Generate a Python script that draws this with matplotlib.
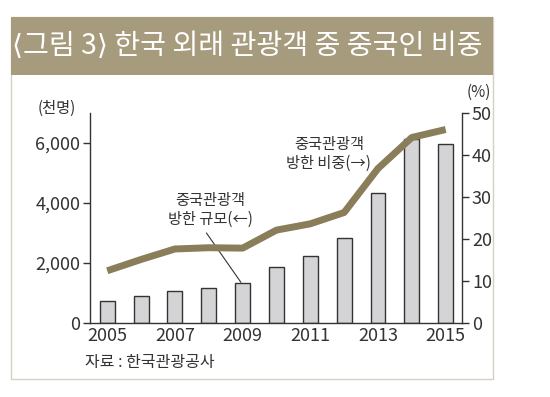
import matplotlib
matplotlib.use("Agg")
import matplotlib.pyplot as plt
from matplotlib.patches import Rectangle
from matplotlib.ticker import FuncFormatter

plt.rcParams["font.family"] = ["Noto Sans CJK KR", "DejaVu Sans"]

# ── Data ─────────────────────────────────────────────────────────────────────
years = [2005, 2006, 2007, 2008, 2009, 2010, 2011, 2012, 2013, 2014, 2015]
visitors = [710, 897, 1069, 1168, 1342, 1876, 2220, 2837, 4327, 6127, 5984]  # 천명
share = [12.4, 15.1, 17.6, 17.9, 17.8, 22.1, 23.6, 26.3, 36.8, 44.2, 46.1]  # %
year_labels = ["2005", "2007", "2009", "2011", "2013", "2015"]

TITLE = "⟨그림 3⟩ 한국 외래 관광객 중 중국인 비중"
SOURCE = "자료 : 한국관광공사"

HEADER = "#a79b7e"
LINE = "#8a7d5a"
BAR = "#d4d4d6"
TEXT = "#333333"

fig = plt.figure(figsize=(5.5, 3.97), dpi=100)

# frame + header band (behind the axes)
fig.patches.append(Rectangle((0.02, 0.045), 0.876, 0.912, transform=fig.transFigure,
                             facecolor="white", edgecolor="#d6d0c4", linewidth=1.0,
                             zorder=-2))
fig.patches.append(Rectangle((0.02, 0.811), 0.876, 0.146, transform=fig.transFigure,
                             facecolor=HEADER, edgecolor="none", zorder=-1))
fig.text(0.022, 0.884, TITLE, color="white", fontsize=20.3, va="center", ha="left",
         fontweight="medium")

ax = fig.add_axes([0.1636, 0.187, 0.6769, 0.528])
ax.patch.set_visible(False)
ax.bar(years, visitors, width=0.44, color=BAR, edgecolor="#333333", linewidth=1.0, zorder=2)
ax.set_xlim(2004.49, 2015.49)
ax.set_ylim(0, 7000)
ax.set_yticks([0, 2000, 4000, 6000])
ax.yaxis.set_major_formatter(FuncFormatter(lambda v, p: f"{int(v):,}"))
ax.set_xticks(range(2005, 2016, 2))
ax.set_xticklabels(year_labels)
ax.tick_params(axis="x", length=0, pad=3, labelsize=13, colors=TEXT)
ax.tick_params(axis="y", length=5, width=1, pad=2, labelsize=13, colors=TEXT)
ax.spines["top"].set_visible(False)
ax.spines["right"].set_visible(False)
for s in ("left", "bottom"):
    ax.spines[s].set_color("#333333")
    ax.spines[s].set_linewidth(1.0)

ax2 = ax.twinx()
ax2.patch.set_visible(False)
ax2.plot(years, share, color=LINE, linewidth=5, solid_capstyle="butt", zorder=3)
ax2.set_ylim(0, 50)
ax2.set_yticks([0, 10, 20, 30, 40, 50])
ax2.tick_params(axis="y", length=5, width=1, pad=2, labelsize=13, colors=TEXT)
for s in ("top", "left", "bottom"):
    ax2.spines[s].set_visible(False)
ax2.spines["right"].set_color("#333333")
ax2.spines["right"].set_linewidth(1.0)

# unit labels
fig.text(0.104, 0.728, "(천명)", fontsize=11, color=TEXT, ha="center", va="center")
fig.text(0.871, 0.768, "(%)", fontsize=11, color=TEXT, ha="center", va="center")

# annotations
ax.text(2011.55, 5630, "중국관광객\n방한 비중(→)", fontsize=11, color=TEXT,
        ha="center", va="center", linespacing=1.15)
ax.text(2008.05, 3760, "중국관광객\n방한 규모(←)", fontsize=11, color=TEXT,
        ha="center", va="center", linespacing=1.15)
ax.annotate("", xy=(2008.95, 1350), xytext=(2007.93, 3000),
            arrowprops=dict(arrowstyle="-", color="#333333", linewidth=0.8,
                            shrinkA=0, shrinkB=0))

fig.text(0.155, 0.088, SOURCE, fontsize=11.5, color=TEXT, ha="left", va="center")

fig.savefig("out.png", dpi=100)
